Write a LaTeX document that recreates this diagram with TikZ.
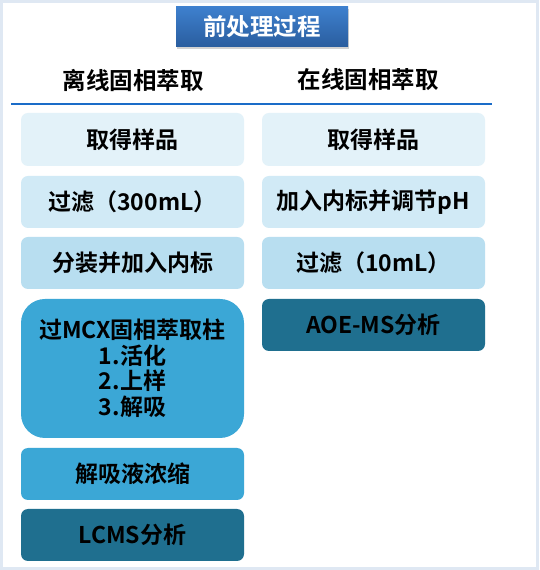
\documentclass[tikz,border=0pt]{standalone}
\usepackage{fontspec}
\setmainfont{Noto Sans CJK SC}[BoldFont={* Bold}]
\usetikzlibrary{shadows}
\definecolor{frame}{HTML}{DFE8F3}
\definecolor{cA}{HTML}{E3F2F9}
\definecolor{cB}{HTML}{D1EAF6}
\definecolor{cC}{HTML}{B8DEF0}
\definecolor{cD}{HTML}{3BA7D6}
\definecolor{cE}{HTML}{1F6F8F}
\definecolor{ttop}{HTML}{3E80CE}
\definecolor{tbot}{HTML}{2A5D9E}
\definecolor{rulecol}{HTML}{1A6CC8}
\begin{document}
\begin{tikzpicture}[x=1pt,y=1pt,
  stepbox/.style={rounded corners=7pt, minimum width=223pt, minimum height=52pt,
    inner sep=0pt, align=center, font=\fontsize{23}{27}\selectfont\bfseries, text=black},
  head/.style={font=\fontsize{23.5}{27}\selectfont\bfseries, text=black}]
\useasboundingbox (0,0) rectangle (539,570);
\fill[white] (0,0) rectangle (539,570);
\draw[frame, line width=3pt] (1.5,1.5) rectangle (537.5,568.5);
% title
\node[top color=ttop, bottom color=tbot, minimum width=172pt, minimum height=40pt,
  inner sep=0pt, text=white, font=\fontsize{23.5}{27}\selectfont\bfseries,
  drop shadow={shadow xshift=1pt, shadow yshift=-2pt, opacity=0.35}] (title) at (262,543) {前处理过程};
% headings
\node[head] (hl) at (133,490) {离线固相萃取};
\node[head] (hr) at (368,490) {在线固相萃取};
\coordinate (la) at (11,466);
\coordinate (lb) at (492,466);
\draw[draw=rulecol, line width=1.1pt] (la) -- (lb);
% left column
\node[stepbox, fill=cA, minimum height=53pt] (l1) at (132.5,430.5) {取得样品};
\node[stepbox, fill=cB] (l2) at (132.5,368) {过滤（300mL）};
\node[stepbox, fill=cC] (l3) at (132.5,307) {分装并加入内标};
\node[stepbox, fill=cD, rounded corners=24pt, minimum height=139pt,
  font=\fontsize{23}{25.5}\selectfont\bfseries] (l4) at (132.5,201.5) {过MCX固相萃取柱\\1.活化\\2.上样\\3.解吸};
\node[stepbox, fill=cD] (l5) at (132.5,96) {解吸液浓缩};
\node[stepbox, fill=cE] (l6) at (132.5,35) {LCMS分析};
% right column
\node[stepbox, fill=cA, minimum height=53pt] (r1) at (373.5,430.5) {取得样品};
\node[stepbox, fill=cB] (r2) at (373.5,368) {加入内标并调节pH};
\node[stepbox, fill=cC] (r3) at (373.5,307) {过滤（10mL）};
\node[stepbox, fill=cE] (r4) at (373.5,245) {AOE-MS分析};
\end{tikzpicture}
\end{document}
